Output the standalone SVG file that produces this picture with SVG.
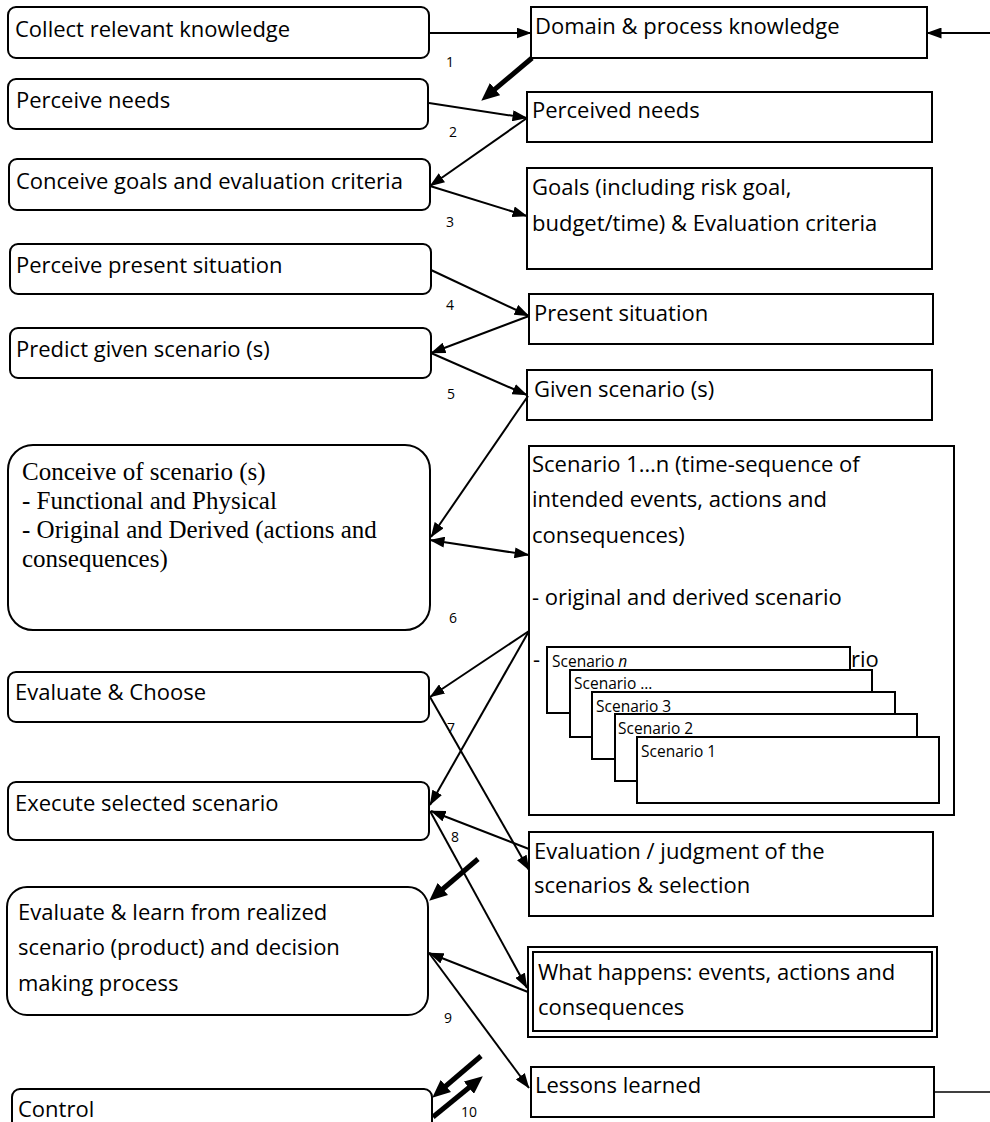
<svg xmlns="http://www.w3.org/2000/svg" width="990" height="1122" viewBox="0 0 990 1122">
<defs>
<style>
.box{fill:#fff;stroke:#000;stroke-width:2}
.t{font-family:"Open Sans","Liberation Sans",sans-serif;font-size:22px;fill:#000}
.s{font-family:"Liberation Serif","Times New Roman",serif;font-size:25px;fill:#000}
.n{font-family:"Open Sans","Liberation Sans",sans-serif;font-size:14px;fill:#000}
.sc{font-family:"Open Sans","Liberation Sans",sans-serif;font-size:15.5px;fill:#000}
.c{fill:none;stroke:#000;stroke-width:2}
.thin{fill:none;stroke:#000;stroke-width:1.3}
.k{fill:none;stroke:#000;stroke-width:5}
</style>
<marker id="a" viewBox="0 0 15 11" refX="14.5" refY="5.5" markerWidth="15" markerHeight="11" markerUnits="userSpaceOnUse" orient="auto-start-reverse"><path d="M0,0 L15,5.5 L0,11 z" fill="#000"/></marker>
<marker id="b" viewBox="0 0 18 16" refX="7" refY="8" markerWidth="18" markerHeight="16" markerUnits="userSpaceOnUse" orient="auto"><path d="M0,0 L18,8 L0,16 z" fill="#000"/></marker>
</defs>

<g id="n-collect"><rect class="box" x="8" y="7" width="421" height="51" rx="8"/><text class="t" x="15" y="37">Collect relevant knowledge</text></g>
<g id="n-perceive-needs"><rect class="box" x="8" y="79" width="420" height="50" rx="8"/><text class="t" x="16" y="108">Perceive needs</text></g>
<g id="n-conceive-goals"><rect class="box" x="9" y="159" width="421" height="51" rx="8"/><text class="t" x="16" y="189">Conceive goals and evaluation criteria</text></g>
<g id="n-perceive-present"><rect class="box" x="10" y="244" width="421" height="50" rx="8"/><text class="t" x="16" y="273">Perceive present situation</text></g>
<g id="n-predict"><rect class="box" x="10" y="328" width="421" height="50" rx="8"/><text class="t" x="16" y="357">Predict given scenario (s)</text></g>
<g id="n-conceive-scenario"><rect class="box" x="8" y="445" width="422" height="185" rx="25"/>
<text class="s" x="22" y="480">Conceive of scenario (s)</text>
<text class="s" x="22" y="509">- Functional and Physical</text>
<text class="s" x="22" y="538">- Original and Derived (actions and</text>
<text class="s" x="22" y="567">consequences)</text></g>
<g id="n-evaluate-choose"><rect class="box" x="8" y="672" width="421" height="50" rx="8"/><text class="t" x="15" y="700">Evaluate &amp; Choose</text></g>
<g id="n-execute"><rect class="box" x="8" y="782" width="421" height="58" rx="8"/><text class="t" x="15" y="811">Execute selected scenario</text></g>
<g id="n-evaluate-learn"><rect class="box" x="7" y="887" width="421" height="128" rx="20"/>
<text class="t" x="18" y="920">Evaluate &amp; learn from realized</text>
<text class="t" x="18" y="955">scenario (product) and decision</text>
<text class="t" x="18" y="991">making process</text></g>
<g id="n-control"><rect class="box" x="12" y="1089" width="420" height="60" rx="8"/><text class="t" x="18" y="1117">Control</text></g>

<g id="n-domain"><rect class="box" x="531" y="7" width="396" height="51"/><text class="t" x="535" y="34">Domain &amp; process knowledge</text></g>
<g id="n-perceived-needs"><rect class="box" x="527" y="92" width="405" height="50"/><text class="t" x="532" y="118">Perceived needs</text></g>
<g id="n-goals"><rect class="box" x="527" y="168" width="405" height="101"/>
<text class="t" x="532" y="195">Goals (including risk goal,</text>
<text class="t" x="532" y="231">budget/time) &amp; Evaluation criteria</text></g>
<g id="n-present"><rect class="box" x="529" y="294" width="404" height="50"/><text class="t" x="534" y="321">Present situation</text></g>
<g id="n-given"><rect class="box" x="527" y="370" width="405" height="50"/><text class="t" x="534" y="397">Given scenario (s)</text></g>
<g id="n-scenarios"><rect class="box" x="529" y="446" width="425" height="369"/>
<text class="t" x="532" y="472">Scenario 1…n (time-sequence of</text>
<text class="t" x="532" y="507">intended events, actions and</text>
<text class="t" x="532" y="543">consequences)</text>
<text class="t" x="532" y="605">- original and derived scenario</text>
<text class="t" x="533" y="667">-</text>
<text class="t" x="851" y="667">rio</text>
<g id="n-scen-n"><rect class="box" x="547" y="647" width="303" height="66"/><text class="sc" x="552" y="667">Scenario <tspan font-style="italic">n</tspan></text></g>
<g id="n-scen-dots"><rect class="box" x="570" y="670" width="302" height="67"/><text class="sc" x="574" y="689">Scenario …</text></g>
<g id="n-scen-3"><rect class="box" x="592" y="692" width="303" height="67"/><text class="sc" x="596" y="712">Scenario 3</text></g>
<g id="n-scen-2"><rect class="box" x="615" y="714" width="302" height="67"/><text class="sc" x="618" y="734">Scenario 2</text></g>
<g id="n-scen-1"><rect class="box" x="637" y="737" width="302" height="66"/><text class="sc" x="641" y="757">Scenario 1</text></g>
</g>
<g id="n-evaluation"><rect class="box" x="529" y="832" width="404" height="84"/>
<text class="t" x="534" y="859">Evaluation / judgment of the</text>
<text class="t" x="534" y="893">scenarios &amp; selection</text></g>
<g id="n-what-happens"><rect class="box" x="528" y="947" width="409" height="90"/><rect class="box" x="533" y="952" width="399" height="79"/>
<text class="t" x="538" y="980">What happens: events, actions and</text>
<text class="t" x="538" y="1015">consequences</text></g>
<g id="n-lessons"><rect class="box" x="531" y="1067" width="403" height="50"/><text class="t" x="535" y="1093">Lessons learned</text></g>

<g id="connectors">
<line class="c" x1="429" y1="33" x2="531" y2="33" marker-end="url(#a)"/>
<line class="c" x1="990" y1="33" x2="927" y2="33" marker-end="url(#a)"/>
<line class="k" x1="532" y1="58" x2="489.7" y2="93.6" marker-end="url(#b)"/>
<line class="c" x1="429" y1="103" x2="527" y2="118" marker-end="url(#a)"/>
<line class="c" x1="527" y1="118" x2="430" y2="186" marker-end="url(#a)"/>
<line class="c" x1="430" y1="186" x2="527" y2="216" marker-end="url(#a)"/>
<line class="c" x1="431" y1="270" x2="529" y2="316" marker-end="url(#a)"/>
<line class="c" x1="529" y1="316" x2="431" y2="353" marker-end="url(#a)"/>
<line class="c" x1="431" y1="353" x2="527" y2="395" marker-end="url(#a)"/>
<line class="c" x1="528" y1="396" x2="431" y2="537" marker-end="url(#a)"/>
<line class="c" x1="430" y1="540" x2="529" y2="555" marker-start="url(#a)" marker-end="url(#a)"/>
<line class="c" x1="529" y1="631" x2="430" y2="697" marker-end="url(#a)"/>
<line class="c" x1="529" y1="631" x2="430" y2="805" marker-end="url(#a)"/>
<line class="c" x1="430" y1="697" x2="529" y2="870" marker-end="url(#a)"/>
<line class="c" x1="529" y1="849" x2="431" y2="811" marker-end="url(#a)"/>
<line class="c" x1="430" y1="811" x2="527" y2="988" marker-end="url(#a)"/>
<line class="k" x1="478" y1="859" x2="437.6" y2="893.5" marker-end="url(#b)"/>
<line class="c" x1="528" y1="992" x2="429" y2="953" marker-end="url(#a)"/>
<line class="c" x1="429" y1="953" x2="529" y2="1088" marker-end="url(#a)"/>
<line class="thin" x1="934" y1="1092" x2="990" y2="1092"/>
<line class="k" x1="481" y1="1056" x2="440.6" y2="1090.5" marker-end="url(#b)"/>
<line class="k" x1="433" y1="1117" x2="474.3" y2="1083.3" marker-end="url(#b)"/>
</g>

<g id="labels">
<text class="n" x="446" y="67">1</text>
<text class="n" x="449" y="137">2</text>
<text class="n" x="446" y="227">3</text>
<text class="n" x="446" y="310">4</text>
<text class="n" x="447" y="399">5</text>
<text class="n" x="449" y="623">6</text>
<text class="n" x="447" y="733">7</text>
<text class="n" x="451" y="842">8</text>
<text class="n" x="444" y="1023">9</text>
<text class="n" x="461" y="1117">10</text>
</g>
</svg>
